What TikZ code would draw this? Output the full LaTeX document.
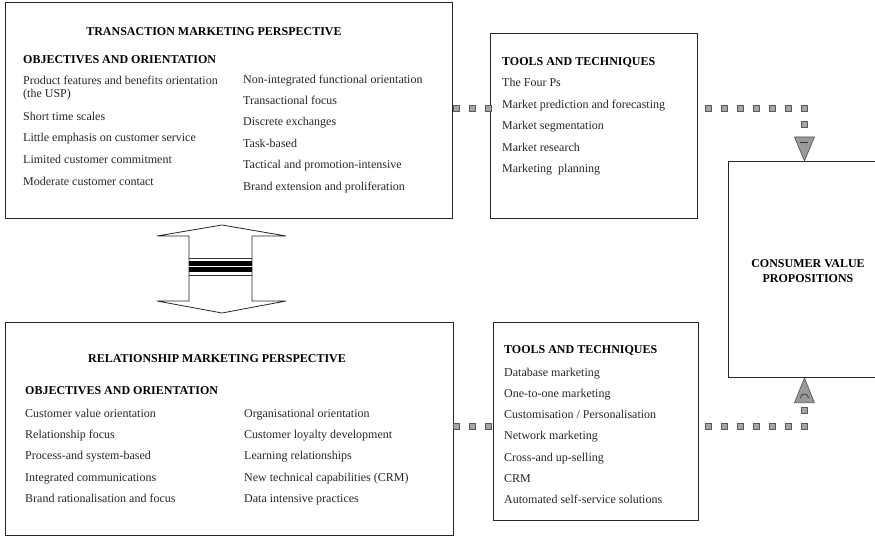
\documentclass[tikz,border=0pt]{standalone}
\usepackage{fontspec}
\setmainfont{Liberation Serif}
\usetikzlibrary{calc,decorations.markings}

\tikzset{
  box/.style={draw=black!85, line width=0.9pt, rectangle, inner sep=0pt, anchor=north west},
  head/.style={font=\fontsize{12}{15}\selectfont\bfseries, inner sep=0pt},
  item/.style={font=\fontsize{12}{14}\selectfont, inner sep=0pt, anchor=base west, text=black!85},
  sq/.style={rectangle, draw=black!65, fill=black!35, line width=0.6pt, minimum size=6pt, inner sep=0pt},
  dotlink/.style={postaction={decorate}, decoration={markings,
      mark=between positions 0 and 1 step 16pt with {\node[sq] {};}}},
  tri/.style={draw=black!70, fill=black!40, line width=0.6pt, line join=round},
  blockarrow/.style={draw=black!85, fill=white, line width=0.8pt, line join=miter},
}

\begin{document}
\begin{tikzpicture}[x=1pt, y=-1pt]
\useasboundingbox (0,0) rectangle (875,537);

% ---- boxes ----
\node[box, minimum width=447pt, minimum height=216pt] (tmp) at (5,2) {};
\node[box, minimum width=448pt, minimum height=213pt] (rmp) at (5,322) {};
\node[box, minimum width=207pt, minimum height=185pt] (tools1) at (490,33) {};
\node[box, minimum width=205pt, minimum height=198pt] (tools2) at (493,322) {};
\node[box, minimum width=152pt, minimum height=216pt] (cvp) at (728,161) {};

% ---- transaction marketing ----
\node[head, anchor=base] (tmptitle) at (214,36) {TRANSACTION MARKETING PERSPECTIVE};
\node[head, anchor=base west] (tmpobj) at (23,64) {OBJECTIVES AND ORIENTATION};
\foreach \t/\yy [count=\i] in {
  Product features and benefits orientation/85,
  (the USP)/97.5,
  Short time scales/121,
  Little emphasis on customer service/142,
  Limited customer commitment/164,
  Moderate customer contact/186}
  \node[item] (tl\i) at (23,\yy) {\t};
\foreach \t/\yy [count=\i] in {
  Non-integrated functional orientation/84,
  Transactional focus/105,
  Discrete exchanges/126,
  Task-based/148,
  Tactical and promotion-intensive/169,
  Brand extension and proliferation/191}
  \node[item] (tr\i) at (243,\yy) {\t};

% ---- relationship marketing ----
\node[head, anchor=base] (rmptitle) at (217,362) {RELATIONSHIP MARKETING PERSPECTIVE};
\node[head, anchor=base west] (rmpobj) at (25,394) {OBJECTIVES AND ORIENTATION};
\foreach \t/\yy [count=\i] in {
  Customer value orientation/417,
  Relationship focus/438,
  Process-and system-based/459,
  Integrated communications/481,
  Brand rationalisation and focus/502}
  \node[item] (rl\i) at (25,\yy) {\t};
\foreach \t/\yy [count=\i] in {
  Organisational orientation/417,
  Customer loyalty development/438,
  Learning relationships/459,
  {New technical capabilities (CRM)}/481,
  Data intensive practices/502}
  \node[item] (rr\i) at (244,\yy) {\t};

% ---- tools and techniques ----
\node[head, anchor=base west] (t1head) at (502,66) {TOOLS AND TECHNIQUES};
\foreach \t/\yy [count=\i] in {
  The Four Ps/87,
  Market prediction and forecasting/109,
  Market segmentation/130,
  Market research/152,
  Marketing~ planning/173}
  \node[item] (ta\i) at (502,\yy) {\t};

\node[head, anchor=base west] (t2head) at (504,353) {TOOLS AND TECHNIQUES};
\foreach \t/\yy [count=\i] in {
  Database marketing/376,
  One-to-one marketing/397,
  {Customisation / Personalisation}/418,
  Network marketing/439,
  Cross-and up-selling/461,
  CRM/482,
  Automated self-service solutions/503}
  \node[item] (tb\i) at (504,\yy) {\t};

% ---- consumer value propositions ----
\node[head, align=center] (cvptext) at (808,271) {CONSUMER VALUE\\PROPOSITIONS};

% ---- two-way block arrow between the perspectives ----
\draw[blockarrow] (222,225) -- (286,236) -- (252,236) -- (252,301) -- (286,301)
  -- (222,313) -- (157,301) -- (189,301) -- (189,236) -- (157,236) -- cycle;
\fill[black] (189,261) rectangle (252,272);
\draw[white, line width=0.8pt] (189,266.5) -- (252,266.5);
\draw[black!80, line width=0.7pt] (189,258) -- (252,258);
\draw[black!80, line width=0.7pt] (189,275) -- (252,275);

% ---- dotted links ----
\coordinate (rowT) at (0,108);
\coordinate (rowB) at (0,426);
\coordinate (bendT) at (804,108);
\coordinate (bendB) at (804,426);

\path[dotlink] ($(tmp.east |- rowT)+(3.5,0)$) -- (tools1.west |- rowT);
\path[dotlink] ($(rmp.east |- rowB)+(2.5,0)$) -- (tools2.west |- rowB);

\path[dotlink] (708,108) -- (bendT) -- ($(bendT)+(0,20)$);
\path[dotlink] (708,426) -- (bendB) -- ($(bendB)+(0,-20)$);

% ---- arrowheads onto the consumer value box ----
\draw[tri] ($(cvp.north)+(-10,-24)$) -- ($(cvp.north)+(10,-24)$) -- (cvp.north) -- cycle;
\draw[black!80, line width=0.7pt] ($(cvp.north)+(-4,-19)$) -- ($(cvp.north)+(4,-19)$);
\draw[tri] ($(cvp.south)+(-10,25)$) -- ($(cvp.south)+(10,25)$) -- (cvp.south) -- cycle;
\draw[black!80, line width=0.7pt] ($(cvp.south)+(-4,20)$) arc[start angle=180, end angle=0, radius=4pt];
\end{tikzpicture}
\end{document}
